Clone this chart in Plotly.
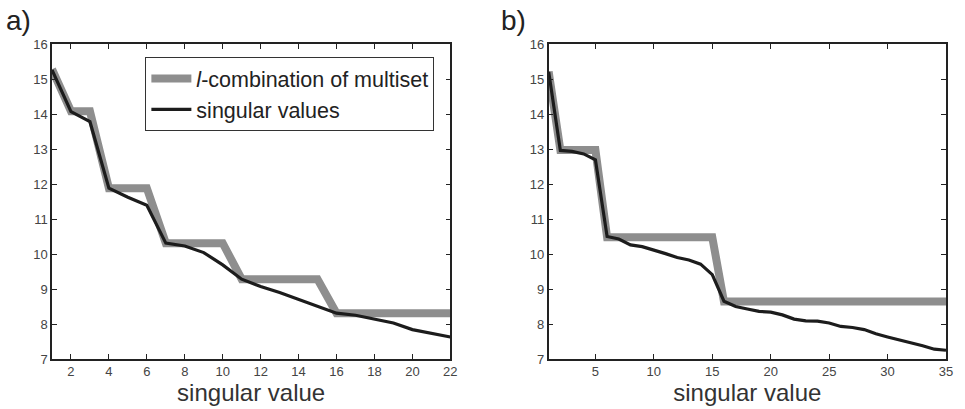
import plotly.graph_objects as go

# Panel a)
xa = list(range(1, 23))
sv_a = [15.26, 14.07, 13.78, 11.88, 11.62, 11.39, 10.31, 10.23, 10.04, 9.69, 9.28,
        9.07, 8.90, 8.71, 8.50, 8.31, 8.25, 8.14, 8.03, 7.84, 7.74, 7.63]
lc_a = [15.28, 14.08, 14.08, 11.88, 11.88, 11.88, 10.31, 10.31, 10.31, 10.31, 9.28,
        9.28, 9.28, 9.28, 9.28, 8.31, 8.31, 8.31, 8.31, 8.31, 8.31, 8.31]

# Panel b)
xb = list(range(1, 36))
sv_b = [15.21, 12.96, 12.93, 12.86, 12.69, 10.50, 10.43, 10.26, 10.21, 10.12, 10.01,
        9.90, 9.83, 9.71, 9.41, 8.65, 8.50, 8.43, 8.36, 8.34, 8.26, 8.14, 8.09, 8.08,
        8.03, 7.93, 7.90, 7.84, 7.72, 7.63, 7.55, 7.47, 7.38, 7.28, 7.25]
lc_b = [15.21] + [12.97] * 4 + [10.48] * 10 + [8.64] * 20

x_ticks_a = list(range(2, 23, 2))
x_ticks_b = [5, 10, 15, 20, 25, 30, 35]
y_ticks = list(range(7, 17))

GRAY = "#8e8e8e"
BLACK = "#1c1c1c"
FONT = "Liberation Sans"

fig = go.Figure()
fig.add_trace(go.Scatter(x=xa, y=lc_a, mode="lines", name="<i>l</i>-combination of multiset",
                         line=dict(color=GRAY, width=8), xaxis="x", yaxis="y"))
fig.add_trace(go.Scatter(x=xa, y=sv_a, mode="lines", name="singular values",
                         line=dict(color=BLACK, width=3.2), xaxis="x", yaxis="y"))
fig.add_trace(go.Scatter(x=xb, y=lc_b, mode="lines", showlegend=False,
                         line=dict(color=GRAY, width=8), xaxis="x2", yaxis="y2"))
fig.add_trace(go.Scatter(x=xb, y=sv_b, mode="lines", showlegend=False,
                         line=dict(color=BLACK, width=3.2), xaxis="x2", yaxis="y2"))

W, H = 965, 409
ml, mr, mt, mb = 52, 13, 44, 50
pw = W - ml - mr
ph = H - mt - mb

axis_common = dict(showline=True, linecolor="#222", linewidth=1.5, mirror="ticks",
                   ticks="inside", ticklen=5, tickcolor="#222", showgrid=False,
                   zeroline=False, tickfont=dict(family=FONT, size=13, color="#444"))

fig.update_layout(
    width=W, height=H,
    margin=dict(l=ml, r=mr, t=mt, b=mb),
    paper_bgcolor="white", plot_bgcolor="white",
    font=dict(family=FONT, color="#222"),
    xaxis=dict(domain=[0, 401 / pw], range=[1, 22], tickvals=x_ticks_a,
               title=dict(text="singular value", font=dict(family=FONT, size=24, color="#333"), standoff=0),
               **axis_common),
    yaxis=dict(range=[7, 16], tickvals=y_ticks, **axis_common),
    xaxis2=dict(domain=[500 / pw, 1], range=[1, 35], tickvals=x_ticks_b, anchor="y2",
                title=dict(text="singular value", font=dict(family=FONT, size=24, color="#333"), standoff=0),
                **axis_common),
    yaxis2=dict(range=[7, 16], tickvals=y_ticks, anchor="x2", **axis_common),
    legend=dict(x=(146 - ml) / pw, y=(359 - 57) / ph, xanchor="left", yanchor="top",
                bordercolor="#333", borderwidth=1, bgcolor="white",
                font=dict(family=FONT, size=21.5, color="#222"), itemwidth=40,
                tracegroupgap=0),
    annotations=[
        dict(text="a)", x=(4 - ml) / pw, y=(359 - 20) / ph, xref="paper", yref="paper",
             xanchor="left", yanchor="middle",
             showarrow=False, font=dict(family=FONT, size=28, color="#222")),
        dict(text="b)", x=(502 - ml) / pw, y=(359 - 20) / ph, xref="paper", yref="paper",
             xanchor="left", yanchor="middle",
             showarrow=False, font=dict(family=FONT, size=28, color="#222")),
    ],
)

fig.write_html("out.html", config={"displayModeBar": False},
               post_script="document.body.style.margin='0px';")
